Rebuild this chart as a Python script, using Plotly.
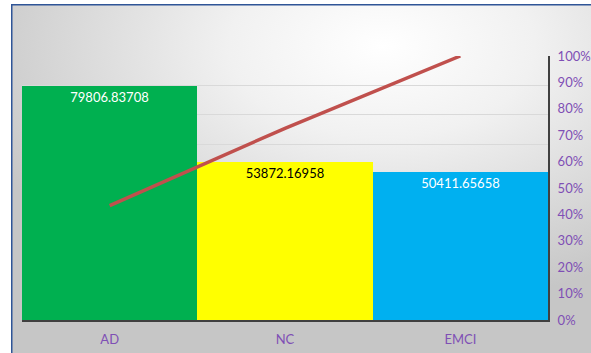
import base64
import plotly.graph_objects as go

# ---- data ----
categories = ["AD", "NC", "EMCI"]
values = [79806.83708, 53872.16958, 50411.65658]
cum_pct = [0.4335, 0.7262, 1.0]
bar_labels = ["79806.83708", "53872.16958", "50411.65658"]
pct_ticks = [0, 0.1, 0.2, 0.3, 0.4, 0.5, 0.6, 0.7, 0.8, 0.9, 1.0]

bar_colors = ["#00B050", "#FFFF00", "#00B0F0"]
text_colors = ["#FFFFFF", "#000000", "#FFFFFF"]
purple = "#7F4FB5"

W, H = 591, 353
L, R, T, B = 22, 43, 56, 33
pw, ph = W - L - R, H - T - B

# background image (radial gradient + blue frame)
fx0, fy0 = 11, 4
iw, ih = W - fx0, H - fy0
svg = f'''<svg xmlns="http://www.w3.org/2000/svg" width="{iw}" height="{ih}" viewBox="0 0 {iw} {ih}" preserveAspectRatio="none">
<defs><radialGradient id="g" cx="0.64" cy="0.12" r="0.75" gradientUnits="objectBoundingBox">
<stop offset="0" stop-color="#ffffff"/><stop offset="0.35" stop-color="#f1f1f1"/><stop offset="1" stop-color="#c6c6c6"/>
</radialGradient></defs>
<rect x="0" y="0" width="{iw}" height="{ih}" fill="url(#g)"/>
<line x1="0.75" y1="0" x2="0.75" y2="{ih}" stroke="#2F5597" stroke-width="1.5"/>
<line x1="0" y1="0.75" x2="{iw}" y2="0.75" stroke="#2F5597" stroke-width="1.5"/>
</svg>'''
src = "data:image/svg+xml;base64," + base64.b64encode(svg.encode()).decode()

fig = go.Figure()
fig.add_trace(go.Bar(
    x=categories, y=values, marker=dict(color=bar_colors, line=dict(width=0)),
    text=bar_labels, textposition="inside", insidetextanchor="end",
    textfont=dict(family="Lato", size=13, color=text_colors),
    textangle=0, constraintext="none", hoverinfo="skip", showlegend=False,
))
fig.add_trace(go.Scatter(
    x=categories, y=cum_pct, yaxis="y2", mode="lines",
    line=dict(color="#C0504D", width=3.5), showlegend=False, hoverinfo="skip",
))

fig.update_layout(
    width=W, height=H, margin=dict(l=L, r=R, t=T, b=B, autoexpand=False),
    paper_bgcolor="#ffffff", plot_bgcolor="rgba(0,0,0,0)",
    bargap=0,
    font=dict(family="Lato", size=13, color=purple),
    xaxis=dict(showline=True, linecolor="#404040", linewidth=2, automargin=False,
               ticks="outside", ticklen=6, tickcolor="rgba(0,0,0,0)",
               tickfont=dict(family="Lato", size=13, color=purple)),
    yaxis=dict(range=[0, 90000], dtick=10000, showgrid=True, gridcolor="#D9D9D9",
               gridwidth=1, showticklabels=False, zeroline=False, showline=False,
               automargin=False),
    yaxis2=dict(range=[0, 1], overlaying="y", side="right", tickvals=pct_ticks,
                tickformat=".0%", showgrid=False, zeroline=False, automargin=False,
                showline=True, linecolor="#404040", linewidth=2,
                ticks="outside", ticklen=5, tickcolor="rgba(0,0,0,0)",
                tickfont=dict(family="Lato", size=13, color=purple)),
    images=[dict(source=src, xref="paper", yref="paper",
                 x=(fx0 - L) / pw, y=(H - B - fy0) / ph,
                 sizex=iw / pw, sizey=ih / ph, sizing="stretch",
                 xanchor="left", yanchor="top", layer="below")],
)

fig.write_html("out.html")
